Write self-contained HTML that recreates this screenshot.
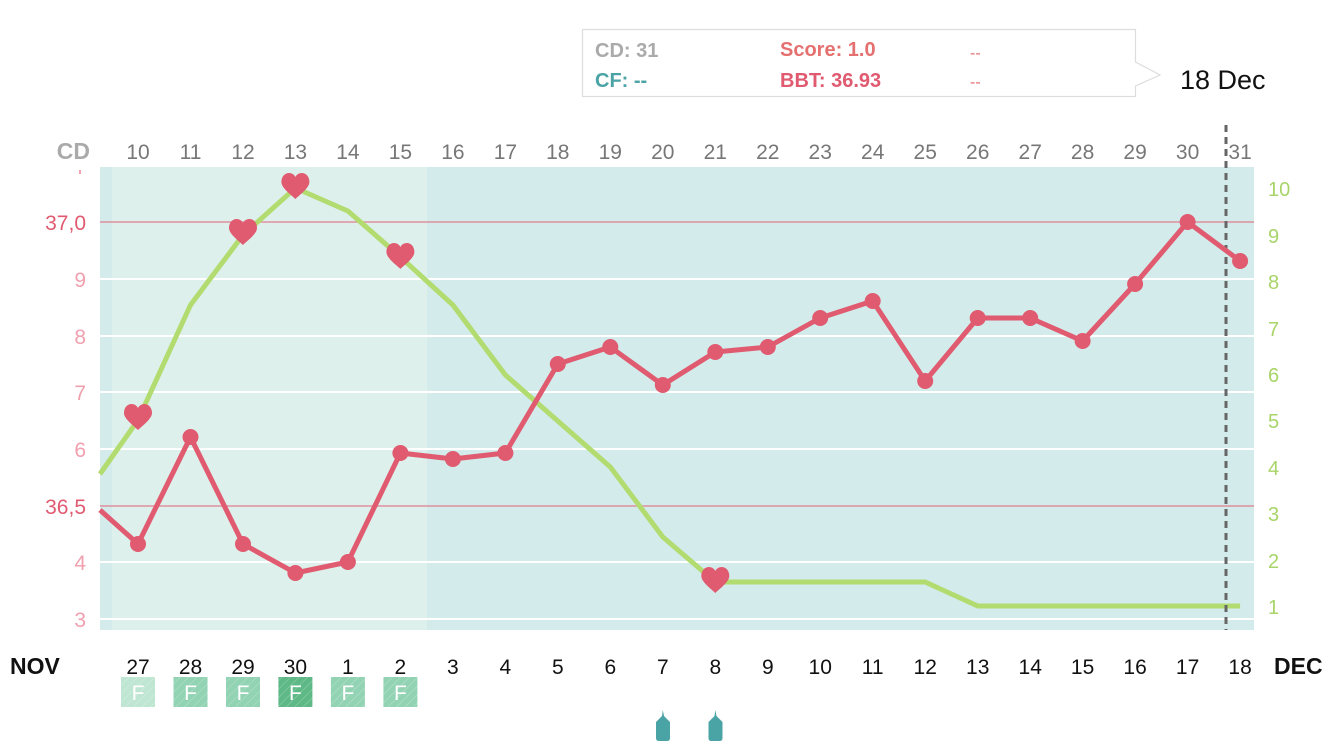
<!DOCTYPE html>
<html><head><meta charset="utf-8"><style>
body{margin:0;background:#fff;width:1334px;height:750px;overflow:hidden;font-family:"Liberation Sans",sans-serif}
</style></head><body>
<svg width="1334" height="750" viewBox="0 0 1334 750" xmlns="http://www.w3.org/2000/svg" font-family="Liberation Sans, sans-serif">
<defs>
<pattern id="hat" width="6" height="6" patternUnits="userSpaceOnUse" patternTransform="rotate(45)"><rect width="6" height="6" fill="none"/><line x1="0" y1="0" x2="0" y2="6" stroke="#fff" stroke-opacity="0.35" stroke-width="1"/></pattern>
<path id="hrt" d="M0,12 C-4,8 -14,1 -14,-5 C-14,-11 -10,-14 -6.5,-14 C-3,-14 -1,-12 0,-10 C1,-12 3,-14 6.5,-14 C10,-14 14,-11 14,-5 C14,1 4,8 0,12 Z" fill="#e05a70"/>
</defs>
<!-- tooltip -->
<path d="M582.5,29.5 H1135.5 V62 L1160,75 L1135.5,86 V96.5 H582.5 Z" fill="#fff" stroke="#ddd" stroke-width="1.2"/>
<g font-weight="bold" font-size="20">
<text x="595" y="57" fill="#aaa">CD: 31</text>
<text x="595" y="87" fill="#4aa3a5">CF: --</text>
<text x="780" y="56" fill="#e57070">Score: 1.0</text>
<text x="780" y="87" fill="#e05a70">BBT: 36.93</text>
<text x="970" y="58" fill="#e57070" font-weight="normal" font-size="16">--</text>
<text x="970" y="87" fill="#e57070" font-weight="normal" font-size="16">--</text>
</g>
<text x="1180" y="89" font-size="27" fill="#111">18 Dec</text>
<!-- background -->
<rect x="100" y="167" width="1154" height="463" fill="#d3ebeb"/>
<rect x="112" y="167" width="315" height="463" fill="#def0ec"/>
<g stroke="#fff" stroke-width="2">
<line x1="100" x2="1254" y1="279" y2="279"/><line x1="100" x2="1254" y1="336" y2="336"/>
<line x1="100" x2="1254" y1="392" y2="392"/><line x1="100" x2="1254" y1="449" y2="449"/>
<line x1="100" x2="1254" y1="562" y2="562"/><line x1="100" x2="1254" y1="619" y2="619"/>
</g>
<g stroke="#e0909e" stroke-width="1.5">
<line x1="100" x2="1254" y1="222" y2="222"/><line x1="100" x2="1254" y1="506" y2="506"/>
</g>
<!-- top axis -->
<text x="90" y="159" font-size="23" font-weight="bold" fill="#aaa" text-anchor="end">CD</text>
<g font-size="21" fill="#777" text-anchor="middle">
<text x="138" y="159">10</text><text x="190.5" y="159">11</text><text x="243" y="159">12</text><text x="295.4" y="159">13</text><text x="347.9" y="159">14</text><text x="400.4" y="159">15</text><text x="452.9" y="159">16</text><text x="505.4" y="159">17</text><text x="557.8" y="159">18</text><text x="610.3" y="159">19</text><text x="662.8" y="159">20</text><text x="715.3" y="159">21</text><text x="767.8" y="159">22</text><text x="820.2" y="159">23</text><text x="872.7" y="159">24</text><text x="925.2" y="159">25</text><text x="977.7" y="159">26</text><text x="1030.2" y="159">27</text><text x="1082.6" y="159">28</text><text x="1135.1" y="159">29</text><text x="1187.6" y="159">30</text><text x="1240.1" y="159">31</text>
</g>
<!-- left axis -->
<g font-size="21" text-anchor="end" fill="#f0a0ae">
<text x="86" y="230" fill="#e05a70">37,0</text><text x="86" y="514" fill="#e05a70">36,5</text>
<text x="86" y="287">9</text><text x="86" y="344">8</text><text x="86" y="400">7</text><text x="86" y="457">6</text><text x="86" y="570">4</text><text x="86" y="627">3</text>
<rect x="79" y="170" width="2" height="4" fill="#f0a0ae"/>
</g>
<!-- right axis -->
<g font-size="20" fill="#a8d468">
<text x="1268" y="196">10</text><text x="1268" y="243">9</text><text x="1268" y="289">8</text><text x="1268" y="336">7</text><text x="1268" y="382">6</text><text x="1268" y="428">5</text><text x="1268" y="475">4</text><text x="1268" y="521">3</text><text x="1268" y="568">2</text><text x="1268" y="614">1</text>
</g>
<!-- green line -->
<polyline fill="none" stroke="#b2dc70" stroke-width="5" stroke-linejoin="round" points="100,474 138,420 190.5,305 243,235 295.4,188 347.9,211 400.4,257 452.9,305 505.4,375 557.8,421 610.3,467 662.8,537 715.3,582 767.8,582 820.2,582 872.7,582 925.2,582 977.7,606 1030.2,606 1082.6,606 1135.1,606 1187.6,606 1240.1,606"/>
<!-- dashed line -->
<line x1="1226" y1="125" x2="1226" y2="630" stroke="#666" stroke-width="3" stroke-dasharray="7,5"/>
<!-- red line -->
<polyline fill="none" stroke="#e05a70" stroke-width="5" stroke-linejoin="round" points="100,510 138,544 190.5,437 243,544 295.4,573 347.9,562 400.4,453 452.9,459 505.4,453 557.8,364 610.3,347 662.8,385 715.3,352 767.8,347 820.2,318 872.7,301 925.2,381 977.7,318 1030.2,318 1082.6,341 1135.1,284 1187.6,222 1240.1,261"/>
<g fill="#e05a70">
<circle cx="138" cy="544" r="8"/><circle cx="190.5" cy="437" r="8"/><circle cx="243" cy="544" r="8"/><circle cx="295.4" cy="573" r="8"/><circle cx="347.9" cy="562" r="8"/><circle cx="400.4" cy="453" r="8"/><circle cx="452.9" cy="459" r="8"/><circle cx="505.4" cy="453" r="8"/><circle cx="557.8" cy="364" r="8"/><circle cx="610.3" cy="347" r="8"/><circle cx="662.8" cy="385" r="8"/><circle cx="715.3" cy="352" r="8"/><circle cx="767.8" cy="347" r="8"/><circle cx="820.2" cy="318" r="8"/><circle cx="872.7" cy="301" r="8"/><circle cx="925.2" cy="381" r="8"/><circle cx="977.7" cy="318" r="8"/><circle cx="1030.2" cy="318" r="8"/><circle cx="1082.6" cy="341" r="8"/><circle cx="1135.1" cy="284" r="8"/><circle cx="1187.6" cy="222" r="8"/><circle cx="1240.1" cy="261" r="8"/>
</g>
<use href="#hrt" x="138" y="418"/><use href="#hrt" x="243" y="233"/><use href="#hrt" x="295.4" y="187"/><use href="#hrt" x="400.4" y="257"/><use href="#hrt" x="715.3" y="581"/>
<!-- bottom axis -->
<text x="10" y="674" font-size="23" font-weight="bold" fill="#111">NOV</text>
<text x="1274" y="674" font-size="23" font-weight="bold" fill="#111">DEC</text>
<g font-size="21" fill="#111" text-anchor="middle">
<text x="138" y="674">27</text><text x="190.5" y="674">28</text><text x="243" y="674">29</text><text x="295.4" y="674">30</text><text x="347.9" y="674">1</text><text x="400.4" y="674">2</text><text x="452.9" y="674">3</text><text x="505.4" y="674">4</text><text x="557.8" y="674">5</text><text x="610.3" y="674">6</text><text x="662.8" y="674">7</text><text x="715.3" y="674">8</text><text x="767.8" y="674">9</text><text x="820.2" y="674">10</text><text x="872.7" y="674">11</text><text x="925.2" y="674">12</text><text x="977.7" y="674">13</text><text x="1030.2" y="674">14</text><text x="1082.6" y="674">15</text><text x="1135.1" y="674">16</text><text x="1187.6" y="674">17</text><text x="1240.1" y="674">18</text>
</g>
<!-- F boxes -->
<g>
<rect x="121" y="677" width="34" height="30" fill="#bfe6d2"/>
<rect x="173.5" y="677" width="34" height="30" fill="#92d3b3"/>
<rect x="226" y="677" width="34" height="30" fill="#92d3b3"/>
<rect x="278.4" y="677" width="34" height="30" fill="#5fb987"/>
<rect x="330.9" y="677" width="34" height="30" fill="#92d3b3"/>
<rect x="383.4" y="677" width="34" height="30" fill="#92d3b3"/>
<rect x="121" y="677" width="296.4" height="30" fill="url(#hat)"/>
</g>
<g font-size="21" fill="#fff" text-anchor="middle">
<text x="138" y="700">F</text><text x="190.5" y="700">F</text><text x="243" y="700">F</text><text x="295.4" y="700">F</text><text x="347.9" y="700">F</text><text x="400.4" y="700">F</text>
</g>
<!-- bottle icons -->
<g fill="#4aa3a5">
<path d="M662.8,710 L664,716 L670,722 L670,738 Q670,741 667,741 L659,741 Q656,741 656,738 L656,722 L662,716 Z"/>
<path d="M715.3,710 L716.5,716 L722.5,722 L722.5,738 Q722.5,741 719.5,741 L711.5,741 Q708.5,741 708.5,738 L708.5,722 L714.5,716 Z"/>
</g>
</svg>
</body></html>
